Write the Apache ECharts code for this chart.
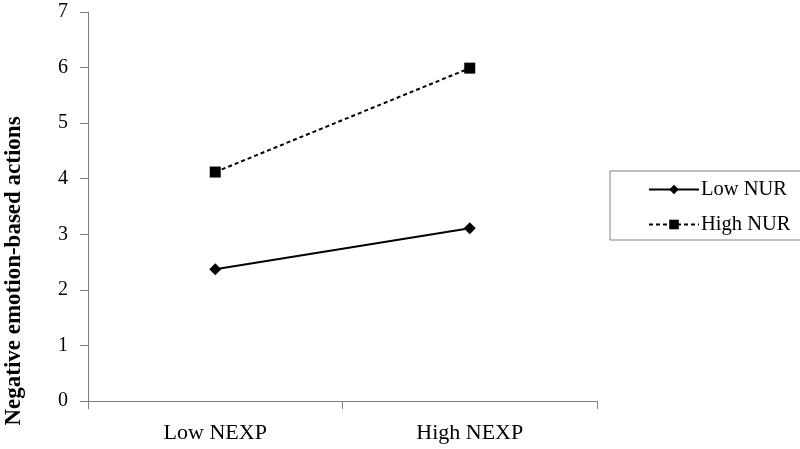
<!DOCTYPE html>
<html>
<head>
<meta charset="utf-8">
<script src="https://cdn.jsdelivr.net/npm/echarts@6/dist/echarts.min.js"></script>
<style>
  html, body { margin: 0; padding: 0; background: #fff; }
  #chart { width: 800px; height: 449px; }
</style>
</head>
<body>
<div id="chart"></div>
<script>
  // 数据
  var categories = ['Low NEXP', 'High NEXP']
  var lowNur = [2.37, 3.11]
  var highNur = [4.12, 5.99]
  var yTicks = [0, 7, 1]

  var chart = echarts.init(document.getElementById('chart'))
  var font = 'Liberation Serif'
  var axisColor = '#808080'

  var option = {
    backgroundColor: '#fff',
    animation: false,
    grid: { left: 88, right: 203, top: 12, bottom: 48 },
    //图例
    legend: {
      orient: 'vertical',
      left: 610,
      top: 171,
      padding: [8, 60, 5, 38],
      itemGap: 14,
      itemWidth: 50,
      itemHeight: 12,
      borderColor: axisColor,
      borderWidth: 1,
      textStyle: { fontFamily: font, fontSize: 20.5, color: '#000', padding: [0, 0, 0, -3] },
      data: ['Low NUR', 'High NUR']
    },
    xAxis: {
      type: 'category',
      data: categories,
      boundaryGap: true,
      axisLine: { lineStyle: { color: axisColor, width: 1 } },
      axisTick: { show: true, length: 8, alignWithLabel: false, lineStyle: { color: axisColor } },
      axisLabel: { fontFamily: font, fontSize: 22, color: '#000', margin: 21 },
      splitLine: { show: false }
    },
    yAxis: {
      type: 'value',
      min: yTicks[0],
      max: yTicks[1],
      interval: yTicks[2],
      axisLine: { show: true, lineStyle: { color: axisColor, width: 1 } },
      axisTick: { show: true, length: 8, lineStyle: { color: axisColor } },
      axisLabel: { fontFamily: font, fontSize: 20, color: '#000', margin: 20 },
      splitLine: { show: false }
    },
    graphic: [{
      type: 'text',
      x: 14,
      y: 271,
      rotation: Math.PI / 2,
      style: {
        text: 'Negative emotion-based actions',
        font: 'bold 23px "Liberation Serif"',
        fill: '#000',
        textAlign: 'center',
        textVerticalAlign: 'middle'
      }
    }],
    series: [
      {
        name: 'Low NUR',
        type: 'line',
        data: lowNur,
        symbol: 'diamond',
        symbolSize: 12,
        itemStyle: { color: '#000' },
        lineStyle: { color: '#000', width: 2, type: 'solid' }
      },
      {
        name: 'High NUR',
        type: 'line',
        data: highNur,
        symbol: 'rect',
        symbolSize: 11,
        itemStyle: { color: '#000' },
        lineStyle: { color: '#000', width: 2, type: [4, 3] }
      }
    ]
  }
  chart.setOption(option)
</script>
</body>
</html>
